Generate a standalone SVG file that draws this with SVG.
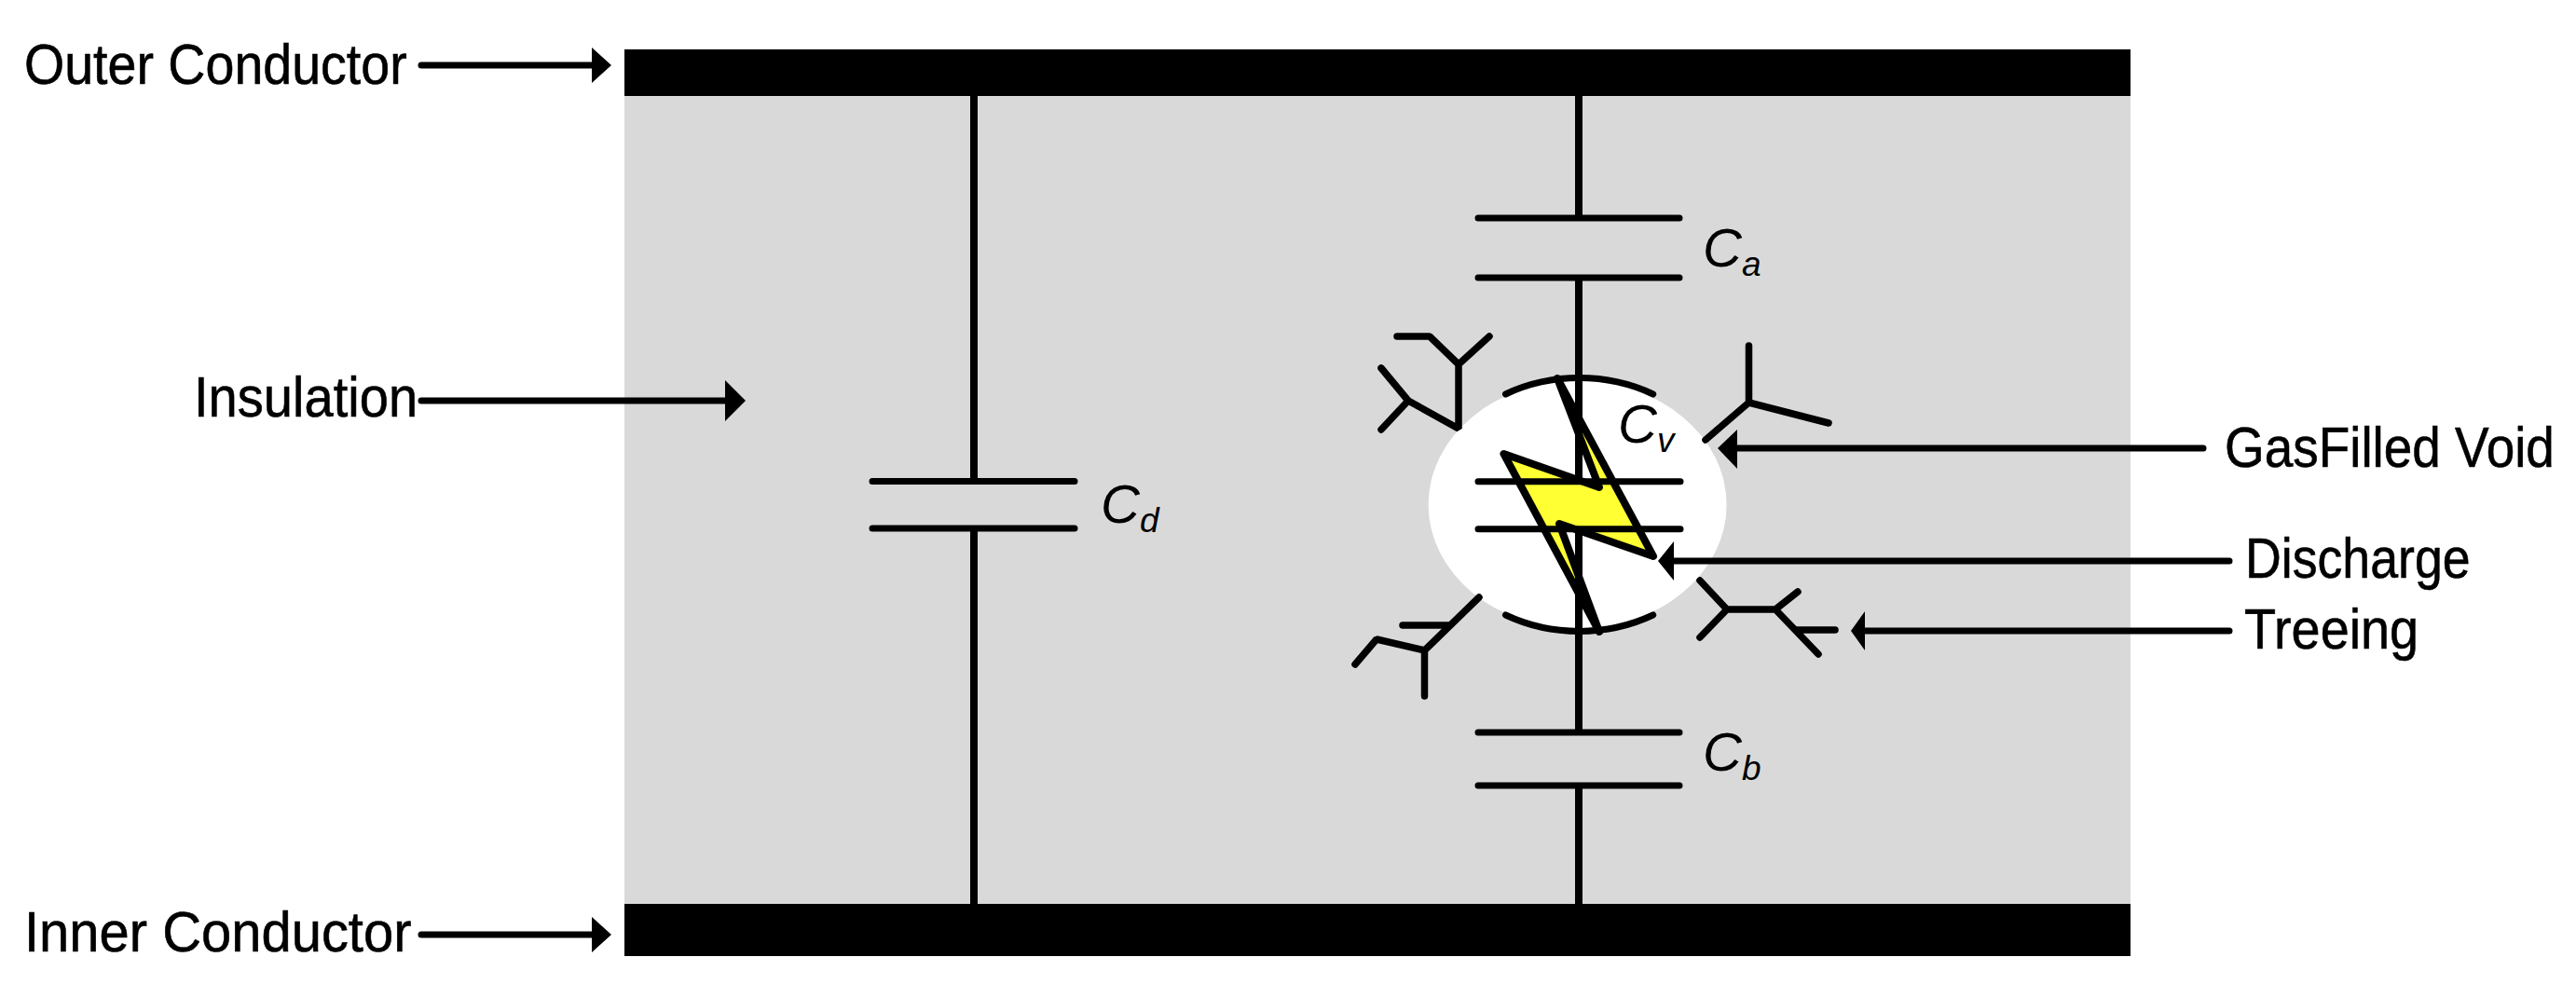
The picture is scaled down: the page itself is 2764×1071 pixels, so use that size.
<svg xmlns="http://www.w3.org/2000/svg" width="2764" height="1071" viewBox="0 0 2764 1071">
<style>
.lbl{font-family:"Liberation Sans",Arial,sans-serif;font-size:61px;fill:#000;stroke:#000;stroke-width:.6}
.cap{font-family:"Liberation Sans",Arial,sans-serif;font-size:58px;font-style:italic;fill:#000}
.sub{font-size:37px;font-style:italic}
.w{fill:none;stroke:#000;stroke-width:8}
.p{fill:none;stroke:#000;stroke-width:7;stroke-linecap:round}
.t{fill:none;stroke:#000;stroke-width:7.5;stroke-linecap:round;stroke-linejoin:bevel}
.a{fill:none;stroke:#000;stroke-width:7;stroke-linecap:round}
.h{fill:#000}
</style>
<rect width="2764" height="1071" fill="#fff"/>
<g id="insulation"><rect x="670" y="103" width="1616" height="867" fill="#d9d9d9"/></g>
<g id="outer-conductor"><rect x="670" y="53" width="1616" height="50" fill="#000"/></g>
<g id="inner-conductor"><rect x="670" y="970" width="1616" height="56" fill="#000"/></g>
<g id="void">
<ellipse cx="1692.6" cy="541.7" rx="160" ry="133" fill="#fff"/>
<path class="p" d="M1615.5 423A160 133 0 0 1 1773.7 423M1615.5 660A160 133 0 0 0 1773.7 660"/>
</g>
<g id="discharge"><path d="M1671 406L1774 597L1673 562L1716 678L1613.5 487L1716 523Z" fill="#ffff33" stroke="#000" stroke-width="8" stroke-linejoin="round"/></g>
<g id="connectors">
<path class="w" d="M1045 103V516M1045 567V970"/>
<path class="w" d="M1694 103V234M1694 298V517M1694 568V786M1694 843V970"/>
<path class="a" d="M452 70H640"/><path class="h" d="M656 70L635 51V89Z"/>
<path class="a" d="M452 430H782"/><path class="h" d="M800 430L778 408V452Z"/>
<path class="a" d="M452 1003H640"/><path class="h" d="M656 1003L635 984V1022Z"/>
<path class="a" d="M2364 481H1858"/><path class="h" d="M1843 481L1864 461V503Z"/>
<path class="a" d="M2392 602H1790"/><path class="h" d="M1779 602L1796 581V623Z"/>
<path class="a" d="M2392 677H1995"/><path class="h" d="M1986 677L2001 656V698Z"/>
</g>
<g id="cap-d"><path class="p" d="M936 516.5H1153M936 567H1153"/><text class="cap" x="1181" y="561">C<tspan class="sub" dy="10">d</tspan></text></g>
<g id="cap-a"><path class="p" d="M1586 234H1802M1586 298H1802"/><text class="cap" x="1827" y="286">C<tspan class="sub" dy="10">a</tspan></text></g>
<g id="cap-b"><path class="p" d="M1586 786H1802M1586 843H1802"/><text class="cap" x="1827" y="827">C<tspan class="sub" dy="10">b</tspan></text></g>
<g id="cap-v"><path class="p" d="M1586 516.7H1803M1586 567.7H1803"/><text class="cap" x="1736" y="475">C<tspan class="sub" dy="10">v</tspan></text></g>
<g id="tree-upper-left"><path class="t" d="M1499 361H1534L1565 391L1598 361M1565 391V460L1511 430L1482 395M1511 430L1482 461"/></g>
<g id="tree-upper-right"><path class="t" d="M1876.5 371V432L1962 454M1876.5 432L1830 472"/></g>
<g id="tree-lower-right"><path class="t" d="M1824 623L1853 654L1824 684M1853 654H1905L1929 635M1905 654L1951 702M1928 676H1969"/></g>
<g id="tree-lower-left"><path class="t" d="M1587 641L1528.5 698V747M1528.5 698L1477 686L1454 713M1505 671H1556"/></g>
<g id="labels">
<text class="lbl" transform="translate(26 90) scale(.911 1)">Outer Conductor</text>
<text class="lbl" transform="translate(208 447) scale(.92 1)">Insulation</text>
<text class="lbl" transform="translate(26 1021) scale(.95 1)">Inner Conductor</text>
<text class="lbl" transform="translate(2387 501) scale(.9 1)">GasFilled Void</text>
<text class="lbl" transform="translate(2409 620) scale(.88 1)">Discharge</text>
<text class="lbl" transform="translate(2408 696) scale(.915 1)">Treeing</text>
</g>
</svg>
